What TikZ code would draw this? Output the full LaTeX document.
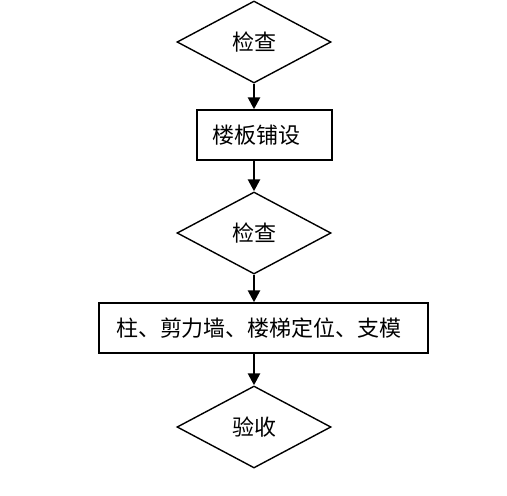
\documentclass[tikz,border=0pt]{standalone}
\usepackage{fontspec}
\setmainfont{Noto Sans CJK SC}
\usetikzlibrary{shapes.geometric,arrows.meta}

\begin{document}
\begin{tikzpicture}[x=1pt, y=-1pt,
        check/.style = {diamond, draw, line width=1.4pt, inner sep=0pt,
                        minimum width=154pt, minimum height=82pt, font=\fontsize{22}{22}\selectfont},
        stepbox/.style = {rectangle, draw, line width=1.4pt, inner sep=0pt,
                          minimum height=50pt, font=\fontsize{22}{22}\selectfont},
        flow/.style = {line width=2.6pt, -{Triangle[width=12pt,length=12pt]}}]

    % page
    \useasboundingbox (0,0) rectangle (507,496);

    % shapes
    \node[check] (chk1) at (254,42) {检查};
    \node[stepbox, minimum width=135pt] (slab) at (264.5,135) {楼板铺设\hspace*{17pt}};
    \node[check] (chk2) at (254,233) {检查};
    \node[stepbox, minimum width=329pt] (form) at (263.5,328) {柱、剪力墙、楼梯定位、支模\hspace*{9pt}};
    \node[check] (accept) at (254,427) {验收};

    % arrows
    \draw[flow] (chk1.south) -- (chk1.south |- slab.north);
    \draw[flow] (chk1.south |- slab.south) -- (chk2.north);
    \draw[flow] (chk2.south) -- (chk2.south |- form.north);
    \draw[flow] (chk2.south |- form.south) -- (accept.north);

\end{tikzpicture}
\end{document}
